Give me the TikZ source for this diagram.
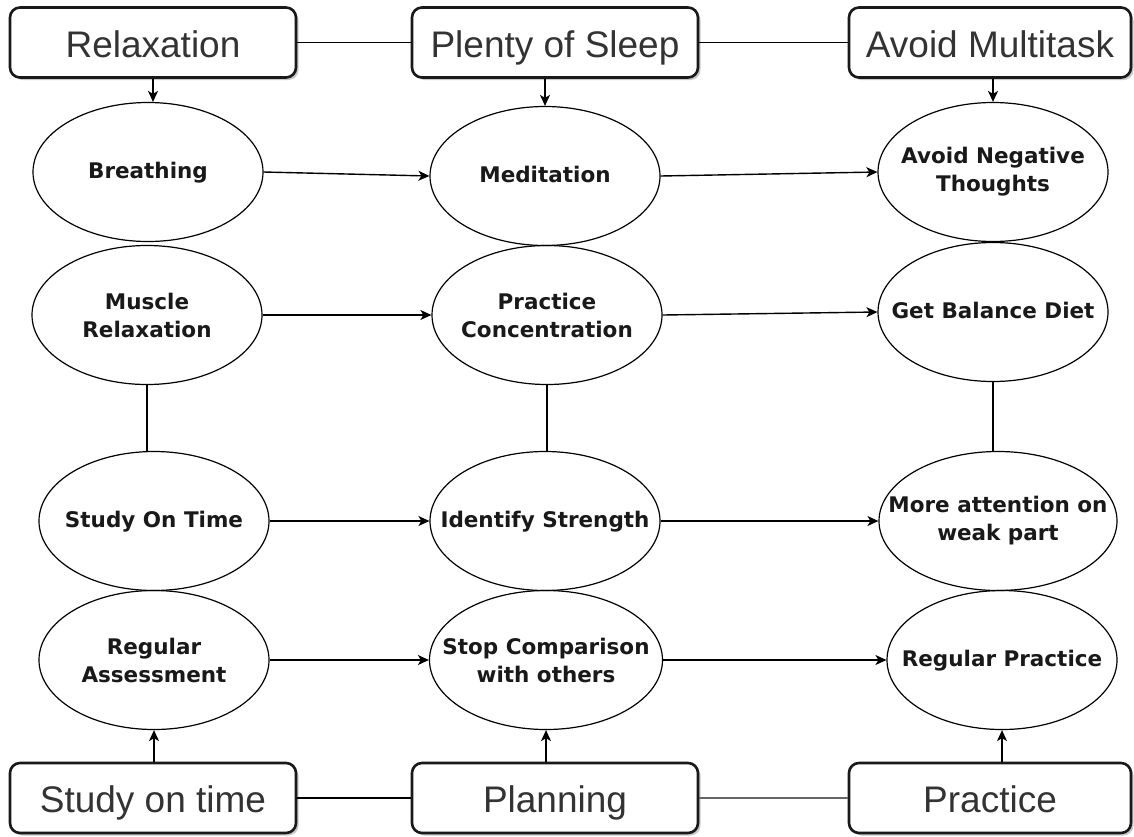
\documentclass[tikz,border=0pt]{standalone}
\usepackage{fontspec}
\setmainfont{Liberation Sans}
\newfontfamily\ellfont{DejaVu Sans}
\usetikzlibrary{shapes.geometric,arrows.meta,shadows}
\begin{document}
\begin{tikzpicture}[x=1pt,y=-1pt,
 box/.style={draw=black!90, line width=2.6pt, rounded corners=10pt, minimum width=286pt, minimum height=70pt, inner sep=0pt, text height=30pt, text depth=1pt, fill=white, font=\fontsize{37}{40}\selectfont, text=black!80, drop shadow={shadow xshift=2.5pt,shadow yshift=-2.5pt,fill=black!35,opacity=0.6}},
 ell/.style={draw, ellipse, line width=1.2pt, minimum width=230pt, minimum height=139pt, inner sep=0pt},
 etxt/.style={align=center, text=black!90, font=\ellfont\bfseries\fontsize{21.5}{28}\selectfont},
 one/.style={etxt, text height=17pt, text depth=5pt},
 link/.style={line width=1.4pt},
 arr/.style={link, -{Stealth[length=11pt,width=10pt,inset=3pt]}}
]
\useasboundingbox (0,0) rectangle (1134,836);
\fill[white] (0,0) rectangle (1134,836);

% top boxes
\node[box] (rel) at (153,42.5) {Relaxation};
\node[box] (sleep) at (555,42.5) {Plenty of Sleep};
\node[box, minimum width=282pt] (multi) at (990,42.5) {Avoid Multitask};
% bottom boxes
\node[box] (study) at (153,798) {Study on time};
\node[box] (plan) at (555,798) {Planning};
\node[box, minimum width=282pt] (prac) at (990,798) {Practice};

% ellipses
\node[ell, label={[one]center:{Breathing}}] (br) at (148,172) {};
\node[ell, label={[one]center:{Meditation}}] (med) at (545,176) {};
\node[ell, label={[etxt]center:{Avoid Negative\\Thoughts}}] (ant) at (993,172) {};

\node[ell, label={[etxt]center:{Muscle\\Relaxation}}] (mus) at (147,315) {};
\node[ell, label={[etxt]center:{Practice\\Concentration}}] (pc) at (547,315) {};
\node[ell, label={[one]center:{Get Balance Diet}}] (gbd) at (993,312) {};

\node[ell, label={[one]center:{Study On Time}}] (sot) at (154,521) {};
\node[ell, label={[one]center:{Identify Strength}}] (ids) at (545,521) {};
\node[ell, minimum width=238pt, label={[etxt]center:{More attention on\\weak part}}] (mat) at (998,521) {};

\node[ell, label={[etxt]center:{Regular\\Assessment}}] (ra) at (154,660) {};
\node[ell, minimum width=233pt, label={[etxt]center:{Stop Comparison\\with others}}] (scw) at (546,660) {};
\node[ell, label={[one]center:{Regular Practice}}] (rp) at (1002,660) {};

% box links
\draw[link] (rel) -- (sleep);
\draw[link] (sleep) -- (multi);
\draw[link] (study) -- (plan);
\draw[link, black!60] (plan) -- (prac);

% box arrows
\draw[arr] (rel.south) -- (rel.south |- br.north);
\draw[arr] (med.north |- sleep.south) -- (med.north);
\draw[arr] (ant.north |- multi.south) -- (ant.north);
\draw[arr] (ra.south |- study.north) -- (ra.south);
\draw[arr] (scw.south |- plan.north) -- (scw.south);
\draw[arr] (rp.south |- prac.north) -- (rp.south);

% horizontal arrows
\draw[arr] (br.east) -- (med.west);
\draw[arr] (med.east) -- (ant.west);
\draw[arr] (mus.east) -- (pc.west);
\draw[arr] (pc.east) -- (gbd.west);
\draw[arr] (sot.east) -- (ids.west);
\draw[arr] (ids.east) -- (mat.west);
\draw[arr] (ra.east) -- (scw.west);
\draw[arr] (scw.east) -- (rp.west);

% vertical links
\draw[link] (mus.south) -- (mus.south |- sot.north);
\draw[link] (pc.south) -- (pc.south |- ids.north);
\draw[link] (gbd.south) -- (gbd.south |- mat.north);
\end{tikzpicture}
\end{document}
